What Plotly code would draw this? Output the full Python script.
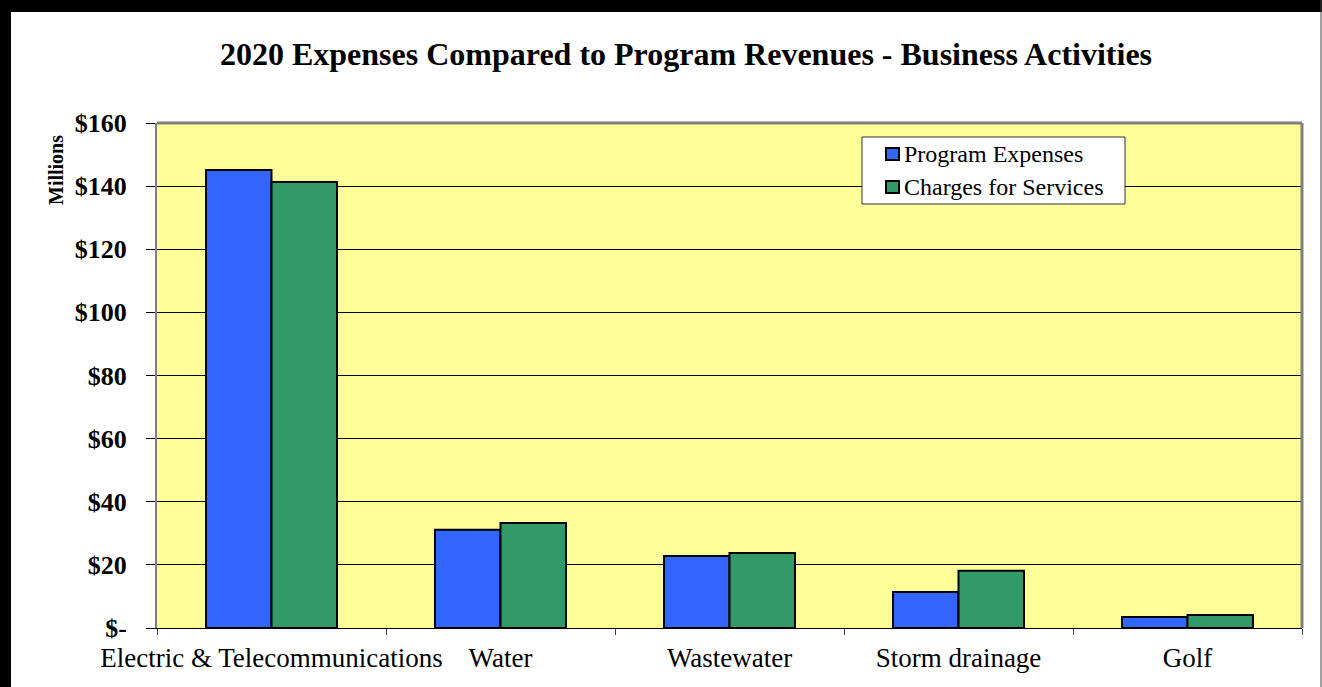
import plotly.graph_objects as go

categories = ["Electric & Telecommunications", "Water", "Wastewater", "Storm drainage", "Golf"]
program_expenses = [145.1, 31.1, 22.8, 11.4, 3.5]
charges_for_services = [141.3, 33.3, 23.8, 18.1, 4.1]
series_names = ["Program Expenses", "Charges for Services"]
series_colors = ["#3366FF", "#339966"]
y_tick_vals = [0, 20, 40, 60, 80, 100, 120, 140, 160]
y_tick_text = ["$-", "$20", "$40", "$60", "$80", "$100", "$120", "$140", "$160"]

W, H = 1322, 687
L, R, T, B = 157, 20, 123, 59
pw, ph = W - L - R, H - T - B
SERIF = "Liberation Serif, Times New Roman, serif"

def px(x):
    return (x - L) / pw

def py(y):
    return (H - B - y) / ph

fig = go.Figure()
for name, color, vals in zip(series_names, series_colors, [program_expenses, charges_for_services]):
    fig.add_trace(go.Bar(name=name, x=categories, y=vals,
                         marker=dict(color=color, line=dict(color="black", width=2))))

fig.update_layout(
    width=W, height=H,
    margin=dict(l=L, r=R, t=T, b=B, autoexpand=False),
    paper_bgcolor="white",
    plot_bgcolor="#FFFF99",
    barmode="group",
    bargap=0.428,
    bargroupgap=0,
    font=dict(family=SERIF, color="black"),
    title=dict(text="<b>2020 Expenses Compared to Program Revenues - Business Activities</b>",
               x=686 / W, xanchor="center", y=1 - 54 / H, yanchor="middle",
               font=dict(size=32, family=SERIF, color="black")),
    showlegend=False,
    xaxis=dict(type="category", showgrid=False, ticks="outside", tickson="boundaries",
               ticklen=6, tickcolor="#404040", showline=True, linecolor="black", linewidth=1,
               tickangle=0, automargin=False, ticklabelstandoff=6,
               tickfont=dict(size=27, family=SERIF)),
    yaxis=dict(range=[0, 160], tickvals=y_tick_vals,
               ticktext=["<b>" + t + "</b>" for t in y_tick_text],
               showgrid=True, gridcolor="black", gridwidth=1, zeroline=False,
               ticks="outside", ticklen=9, tickcolor="black", automargin=False,
               ticklabelstandoff=14,
               showline=True, linecolor="#808080", linewidth=2,
               tickfont=dict(size=26, family=SERIF)),
)

fig.add_annotation(text="<b>Millions</b>", xref="paper", yref="paper",
                   x=px(56), y=py(170), xanchor="center", yanchor="middle",
                   textangle=-90, showarrow=False, font=dict(size=20, family=SERIF))

# legend box (drawn manually to match the original's compact layout)
fig.add_shape(type="rect", xref="paper", yref="paper", x0=px(862), x1=px(1125), y0=py(204), y1=py(137),
              fillcolor="white", line=dict(color="#333333", width=1), layer="above")
for i, (name, color) in enumerate(zip(series_names, series_colors)):
    cy = 154 + i * 33
    fig.add_shape(type="rect", xref="paper", yref="paper",
                  x0=px(886), x1=px(899), y0=py(cy + 6), y1=py(cy - 6),
                  fillcolor=color, line=dict(color="black", width=2), layer="above")
    fig.add_annotation(text=name, xref="paper", yref="paper", x=px(902), y=py(cy),
                       xanchor="left", yanchor="middle", showarrow=False,
                       font=dict(size=24, family=SERIF))

# plot area top and right borders (gray)
fig.add_shape(type="line", xref="paper", yref="paper", x0=0, x1=1, y0=1, y1=1,
              line=dict(color="#808080", width=3))
fig.add_shape(type="line", xref="paper", yref="paper", x0=1, x1=1, y0=0, y1=1,
              line=dict(color="#808080", width=3))

# outer frame: black band on top and left, thin line right
fig.add_shape(type="rect", xref="paper", yref="paper", x0=px(0), x1=px(W), y0=py(0), y1=py(12),
              fillcolor="black", line=dict(width=0), layer="above")
fig.add_shape(type="rect", xref="paper", yref="paper", x0=px(0), x1=px(11), y0=py(0), y1=py(H),
              fillcolor="black", line=dict(width=0), layer="above")
fig.add_shape(type="line", xref="paper", yref="paper", x0=px(W - 1), x1=px(W - 1), y0=py(0), y1=py(H),
              line=dict(color="#404040", width=1), layer="above")

fig.write_html("out.html", config={"displayModeBar": False},
               post_script="document.body.style.margin='0';document.body.style.overflow='hidden';")
